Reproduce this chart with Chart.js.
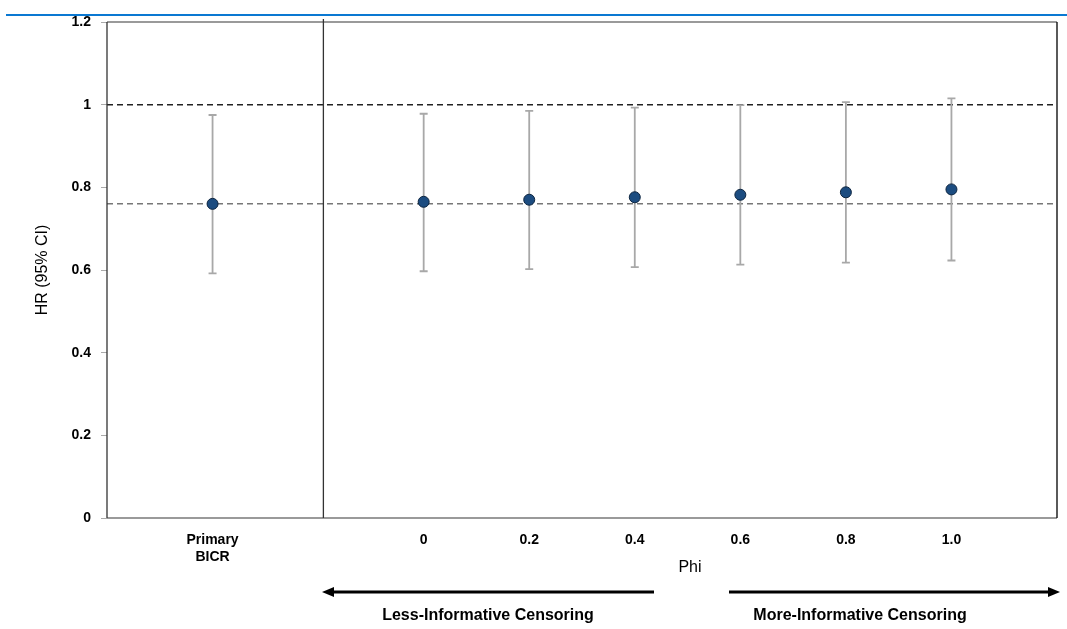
<!DOCTYPE html>
<html>
<head>
<meta charset="utf-8">
<script src="https://cdn.jsdelivr.net/npm/chart.js@4/dist/chart.umd.min.js"></script>
<style>
  html, body { margin: 0; padding: 0; background: #fff; }
  #wrap { width: 1067px; height: 629px; position: relative; }
</style>
</head>
<body>
<div id="wrap"><canvas id="hrChart"></canvas></div>
<script>
// chart data
const categories = ["Primary\nBICR", "0", "0.2", "0.4", "0.6", "0.8", "1.0"];
const catIndex = [0, 2, 3, 4, 5, 6, 7];
const hr = [0.760, 0.765, 0.770, 0.776, 0.782, 0.788, 0.795];
const ciLower = [0.592, 0.597, 0.602, 0.607, 0.613, 0.618, 0.623];
const ciUpper = [0.975, 0.978, 0.985, 0.993, 0.999, 1.006, 1.015];
const yTicks = [0, 0.2, 0.4, 0.6, 0.8, 1, 1.2];
const refLines = [1.0, 0.76];
const dividerAt = 1.05;

const FONT = "'Liberation Sans', Arial, sans-serif";

// frame, reference lines, divider, error bars
const framePlugin = {
  id: "frame",
  beforeDatasetsDraw(chart) {
    const { ctx, chartArea: a, scales } = chart;
    ctx.save();
    ctx.setLineDash([6, 4]);
    ctx.lineWidth = 1.5;
    ctx.strokeStyle = "#222";
    let y = scales.y.getPixelForValue(refLines[0]);
    ctx.beginPath(); ctx.moveTo(a.left, y); ctx.lineTo(a.right, y); ctx.stroke();
    ctx.strokeStyle = "#777";
    y = scales.y.getPixelForValue(refLines[1]);
    ctx.beginPath(); ctx.moveTo(a.left, y); ctx.lineTo(a.right, y); ctx.stroke();
    ctx.setLineDash([]);

    // borders
    ctx.lineWidth = 2;
    ctx.strokeStyle = "#9a9a9a";
    ctx.beginPath(); ctx.moveTo(a.left, a.top); ctx.lineTo(a.right, a.top); ctx.stroke();
    ctx.beginPath(); ctx.moveTo(a.left, a.bottom); ctx.lineTo(a.right, a.bottom); ctx.stroke();
    ctx.lineWidth = 1.3;
    ctx.strokeStyle = "#333";
    ctx.beginPath(); ctx.moveTo(a.left, a.top); ctx.lineTo(a.left, a.bottom); ctx.stroke();
    ctx.strokeStyle = "#000";
    ctx.beginPath(); ctx.moveTo(a.right, a.top); ctx.lineTo(a.right, a.bottom); ctx.stroke();
    const dx = scales.x.getPixelForValue(dividerAt);
    ctx.strokeStyle = "#333";
    ctx.beginPath(); ctx.moveTo(dx, a.top - 3); ctx.lineTo(dx, a.bottom); ctx.stroke();

    // error bars
    ctx.strokeStyle = "#a8a8a8";
    ctx.lineWidth = 1.8;
    catIndex.forEach((xi, i) => {
      const x = scales.x.getPixelForValue(xi);
      const yl = scales.y.getPixelForValue(ciLower[i]);
      const yu = scales.y.getPixelForValue(ciUpper[i]);
      ctx.beginPath();
      ctx.moveTo(x, yl); ctx.lineTo(x, yu);
      ctx.moveTo(x - 4, yl); ctx.lineTo(x + 4, yl);
      ctx.moveTo(x - 4, yu); ctx.lineTo(x + 4, yu);
      ctx.stroke();
    });
    ctx.restore();
  },
  afterDraw(chart) {
    const { ctx } = chart;
    ctx.save();
    ctx.strokeStyle = "#0a78d2";
    ctx.lineWidth = 2;
    ctx.beginPath(); ctx.moveTo(6, 15); ctx.lineTo(1067, 15); ctx.stroke();

    ctx.fillStyle = "#000";
    ctx.font = "16px " + FONT;
    ctx.textAlign = "center";
    ctx.textBaseline = "middle";
    ctx.fillText("Phi", 690, 568);

    // arrows
    const ay = 592;
    ctx.strokeStyle = "#000";
    ctx.lineWidth = 3;
    ctx.beginPath(); ctx.moveTo(654, ay); ctx.lineTo(330, ay); ctx.stroke();
    ctx.beginPath(); ctx.moveTo(729, ay); ctx.lineTo(1050, ay); ctx.stroke();
    ctx.beginPath(); ctx.moveTo(322, ay); ctx.lineTo(334, ay - 5); ctx.lineTo(334, ay + 5); ctx.closePath(); ctx.fill();
    ctx.beginPath(); ctx.moveTo(1060, ay); ctx.lineTo(1048, ay - 5); ctx.lineTo(1048, ay + 5); ctx.closePath(); ctx.fill();

    ctx.font = "bold 16px " + FONT;
    ctx.fillText("Less-Informative Censoring", 488, 616);
    ctx.fillText("More-Informative Censoring", 860, 616);
    ctx.restore();
  }
};

new Chart(document.getElementById("hrChart"), {
  type: "scatter",
  data: {
    datasets: [{
      label: "HR",
      data: catIndex.map((xi, i) => ({ x: xi, y: hr[i] })),
      backgroundColor: "#1c4c80",
      borderColor: "#0d2540",
      borderWidth: 1,
      pointRadius: 5.5,
      pointHoverRadius: 5.5
    }]
  },
  options: {
    responsive: true,
    maintainAspectRatio: false,
    animation: false,
    layout: { padding: { top: 22, right: 10, left: 33, bottom: 0 } },
    plugins: { legend: { display: false }, tooltip: { enabled: false } },
    scales: {
      x: {
        type: "linear",
        min: -1,
        max: 8,
        border: { display: false },
        grid: { display: false },
        afterBuildTicks(axis) {
          axis.ticks = catIndex.map(v => ({ value: v }));
        },
        afterFit(axis) { axis.height = 111; },
        ticks: {
          autoSkip: false,
          maxRotation: 0,
          padding: 6,
          color: "#000",
          font: { family: FONT, size: 14, weight: "bold", lineHeight: 1.2 },
          callback(value) {
            const i = catIndex.indexOf(value);
            return i < 0 ? "" : categories[i].split("\n");
          }
        }
      },
      y: {
        min: 0,
        max: 1.2,
        border: { display: false },
        afterBuildTicks(axis) {
          axis.ticks = yTicks.map(v => ({ value: v }));
        },
        afterFit(axis) { axis.width = 74; },
        grid: {
          drawOnChartArea: false,
          drawTicks: true,
          tickLength: 6,
          color: "#aaa"
        },
        title: {
          display: true,
          text: "HR (95% CI)",
          color: "#000",
          font: { family: FONT, size: 16 },
          padding: 0
        },
        ticks: {
          padding: 10,
          color: "#000",
          font: { family: FONT, size: 14, weight: "bold" },
          callback: v => String(Math.round(v * 10) / 10)
        }
      }
    }
  },
  plugins: [framePlugin]
});
</script>
</body>
</html>
